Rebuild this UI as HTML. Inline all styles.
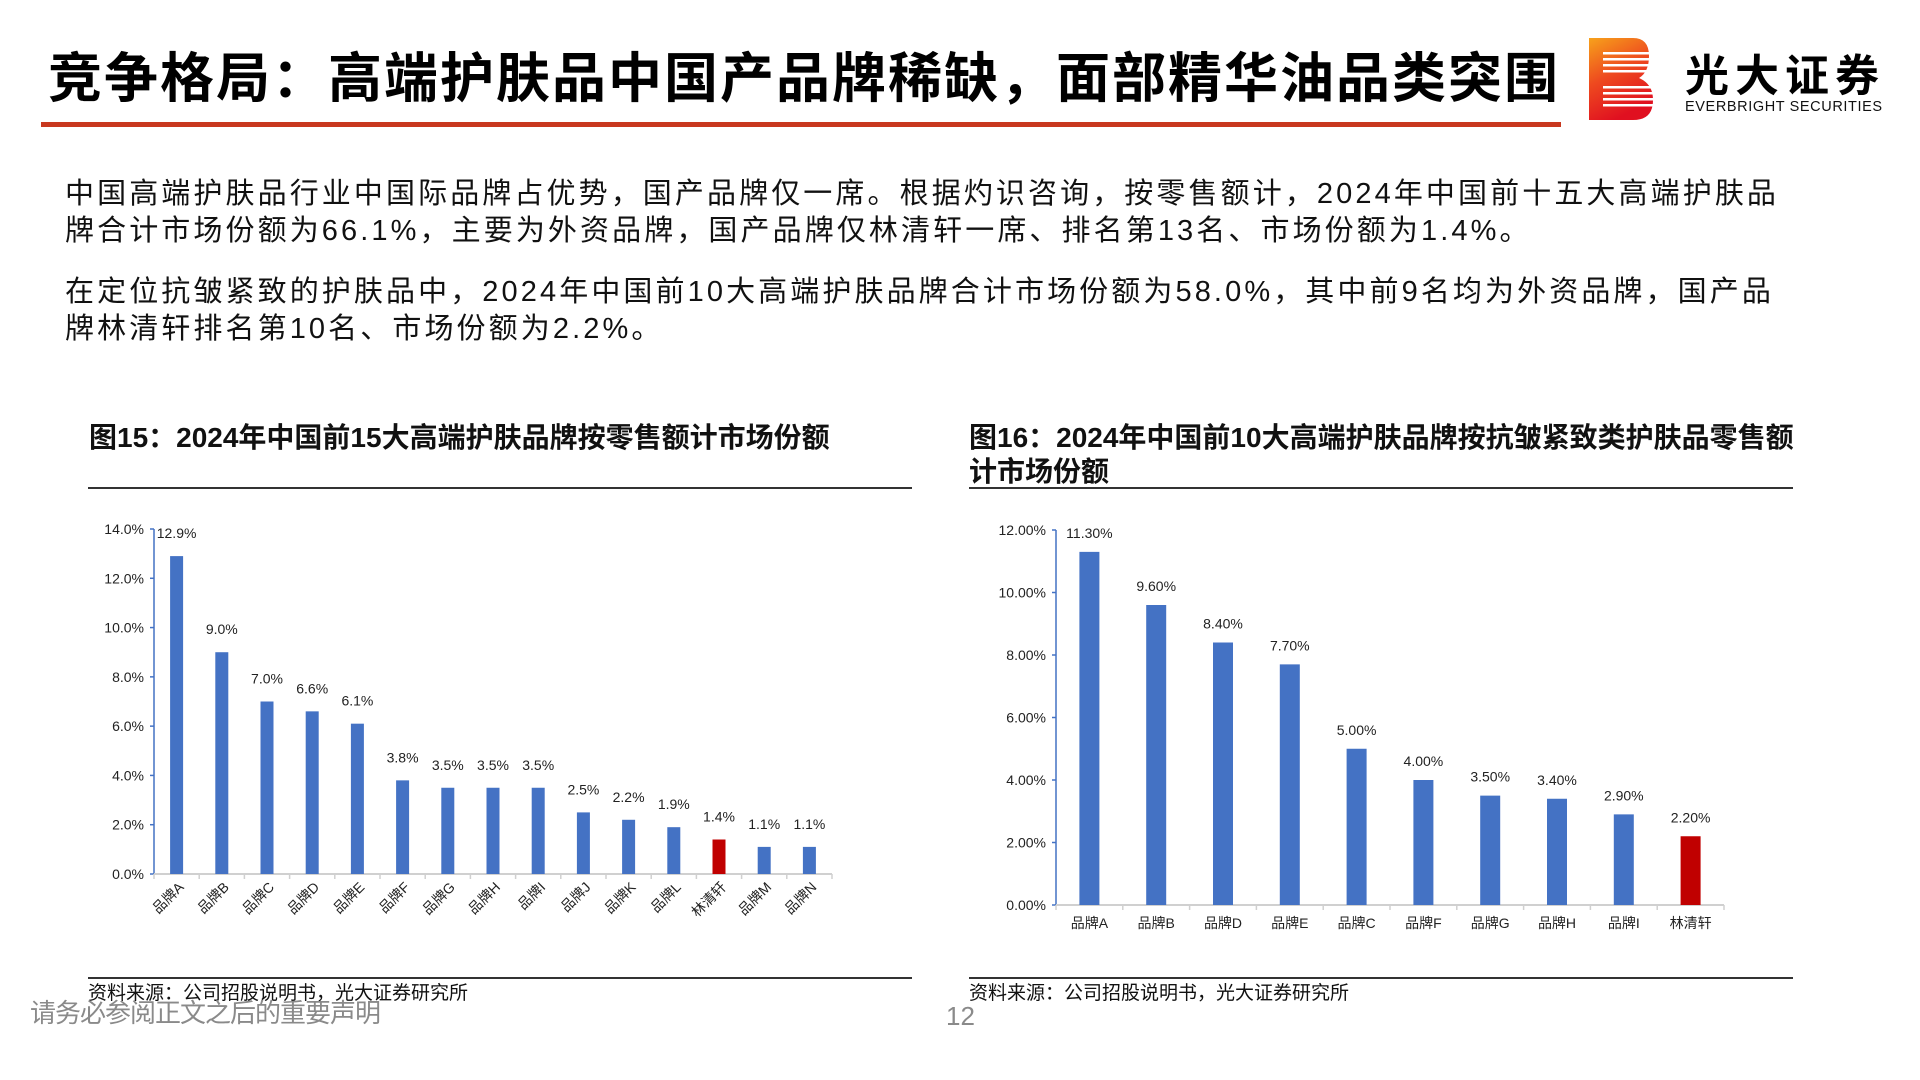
<!DOCTYPE html>
<html><head><meta charset="utf-8">
<style>
html,body{margin:0;padding:0;background:#fff;}
body{width:1920px;height:1080px;position:relative;overflow:hidden;font-family:"Liberation Sans","Noto Sans CJK SC",sans-serif;color:#000;}
.abs{position:absolute;white-space:nowrap;}
#title{left:48px;top:34px;font-size:54px;font-weight:bold;letter-spacing:2px;}
#redline{left:41px;top:122px;width:1520px;height:5px;background:#c8381f;}
.para{left:65px;font-size:29px;letter-spacing:3.1px;line-height:37px;color:#111;}
.ctitle{font-size:28px;font-weight:bold;line-height:34px;color:#111;}
.rule{height:2px;background:#333;}
.src{font-size:19px;color:#111;}
svg text{font-family:"Liberation Sans","Noto Sans CJK SC",sans-serif;}
</style></head><body>
<div class="abs" id="title">竞争格局：高端护肤品中国产品牌稀缺，面部精华油品类突围</div>
<div class="abs" id="redline"></div>
<svg class="abs" style="left:1589px;top:38px" width="64" height="82">
<defs><linearGradient id="lg" x1="0" y1="0" x2="0.4" y2="1"><stop offset="0" stop-color="#f7a21b"/><stop offset="0.5" stop-color="#ee4a1f"/><stop offset="1" stop-color="#e01020"/></linearGradient></defs>
<path d="M0 0 H44 Q60 0 60 18 Q60 34 50 40 Q64 46 64 62 Q64 82 44 82 H0 Z" fill="url(#lg)"/>
<g fill="#fff">
<rect x="14" y="14" width="50" height="2.5"/><rect x="14" y="20" width="50" height="2.5"/><rect x="14" y="26" width="50" height="2.5"/><rect x="14" y="32" width="50" height="2.5"/>
<rect x="14" y="48" width="52" height="2.5"/><rect x="14" y="54" width="52" height="2.5"/><rect x="14" y="60" width="52" height="2.5"/><rect x="14" y="66" width="52" height="2.5"/>
</g></svg>
<div class="abs" style="left:1685px;top:40px;font-size:44px;font-weight:bold;letter-spacing:6px;">光大证券</div>
<div class="abs" style="left:1685px;top:99px;font-size:14.5px;letter-spacing:0.6px;color:#111;">EVERBRIGHT SECURITIES</div>

<div class="abs para" style="top:176px">中国高端护肤品行业中国际品牌占优势，国产品牌仅一席。根据灼识咨询，按零售额计，2024年中国前十五大高端护肤品<br>牌合计市场份额为66.1%，主要为外资品牌，国产品牌仅林清轩一席、排名第13名、市场份额为1.4%。</div>
<div class="abs para" style="top:274px">在定位抗皱紧致的护肤品中，2024年中国前10大高端护肤品牌合计市场份额为58.0%，其中前9名均为外资品牌，国产品<br>牌林清轩排名第10名、市场份额为2.2%。</div>

<div class="abs ctitle" style="left:89px;top:421px">图15：2024年中国前15大高端护肤品牌按零售额计市场份额</div>
<div class="abs rule" style="left:88px;top:487px;width:824px"></div>
<div class="abs ctitle" style="left:969px;top:421px">图16：2024年中国前10大高端护肤品牌按抗皱紧致类护肤品零售额<br>计市场份额</div>
<div class="abs rule" style="left:969px;top:487px;width:824px"></div>

<svg class="abs" id="c1" style="left:0;top:0" width="960" height="980"></svg>
<svg class="abs" id="c2" style="left:960px;top:0" width="960" height="980"></svg>

<div class="abs rule" style="left:88px;top:977px;width:824px"></div>
<div class="abs src" style="left:88px;top:978px">资料来源：公司招股说明书，光大证券研究所</div>
<div class="abs rule" style="left:969px;top:977px;width:824px"></div>
<div class="abs src" style="left:969px;top:978px">资料来源：公司招股说明书，光大证券研究所</div>
<div class="abs" style="left:30px;top:993px;font-size:26px;color:#8a8a8a;letter-spacing:-1px">请务必参阅正文之后的重要声明</div>
<div class="abs" style="left:946px;top:1001px;font-size:26px;color:#8a8a8a">12</div>

<script>
const cats1 = ["品牌A","品牌B","品牌C","品牌D","品牌E","品牌F","品牌G","品牌H","品牌I","品牌J","品牌K","品牌L","林清轩","品牌M","品牌N"];
const vals1 = [12.9,9.0,7.0,6.6,6.1,3.8,3.5,3.5,3.5,2.5,2.2,1.9,1.4,1.1,1.1];
const ticks1 = [0,2,4,6,8,10,12,14];
const cats2 = ["品牌A","品牌B","品牌D","品牌E","品牌C","品牌F","品牌G","品牌H","品牌I","林清轩"];
const vals2 = [11.3,9.6,8.4,7.7,5.0,4.0,3.5,3.4,2.9,2.2];
const ticks2 = [0,2,4,6,8,10,12];
const NS="http://www.w3.org/2000/svg";
function mk(svg,tag,attrs,text){const e=document.createElementNS(NS,tag);for(const k in attrs)e.setAttribute(k,attrs[k]);if(text!==undefined)e.textContent=text;svg.appendChild(e);return e;}
function draw(svg,o){
  const y=v=>o.y0-(v/o.max)*(o.y0-o.y1);
  const step=(o.x1-o.x0)/o.cats.length;
  const x=i=>o.x0+step*(i+0.5);
  let ax=mk(svg,'line',{x1:o.x0,y1:o.y0,x2:o.x0,y2:o.y1,stroke:'#4472c4','stroke-width':1.5});
  
  
  let bx=mk(svg,'line',{x1:o.x0,y1:o.y0,x2:o.x1,y2:o.y0,stroke:'#d0d0d0','stroke-width':2});
  
  
  o.ticks.forEach(t=>{
    mk(svg,'line',{x1:o.x0-4,y1:y(t),x2:o.x0,y2:y(t),stroke:'#4472c4','stroke-width':1.5});
    const tl=mk(svg,'text',{x:o.x0-10,y:y(t)+5,'text-anchor':'end','font-size':14,fill:'#222'},t.toFixed(o.dec)+'%');
    
    
  });
  for(let i=0;i<=o.cats.length;i++){mk(svg,'line',{x1:o.x0+step*i,y1:o.y0,x2:o.x0+step*i,y2:o.y0+5,stroke:'#d0d0d0','stroke-width':1.5});}
  o.vals.forEach((v,i)=>{
    const r=mk(svg,'rect',{x:x(i)-o.bw/2,y:y(v),width:o.bw,height:o.y0-y(v),fill:o.cats[i]==='林清轩'?'#c00000':'#4472c4'});
    
    
    const vl=mk(svg,'text',{x:x(i),y:y(v)-o.lblOff,'text-anchor':'middle','font-size':14,fill:'#222'},v.toFixed(o.dec)+'%');
    
    
    let cl;
    if(o.rot){cl=mk(svg,'text',{x:x(i)+8,y:o.y0+14,'text-anchor':'end','font-size':14,fill:'#222',transform:`rotate(-45 ${x(i)+8} ${o.y0+14})`},o.cats[i]);}
    else{cl=mk(svg,'text',{x:x(i),y:o.y0+23,'text-anchor':'middle','font-size':14,fill:'#222'},o.cats[i]);}
    
    
  });
}
draw(document.getElementById('c1'),{cats:cats1,vals:vals1,ticks:ticks1,max:14,x0:154,x1:832,y0:874,y1:529,bw:13,dec:1,rot:true,lblOff:18});
draw(document.getElementById('c2'),{cats:cats2,vals:vals2,ticks:ticks2,max:12,x0:96,x1:764,y0:905,y1:530,bw:20,dec:2,rot:false,lblOff:14});
</script>
</body></html>
